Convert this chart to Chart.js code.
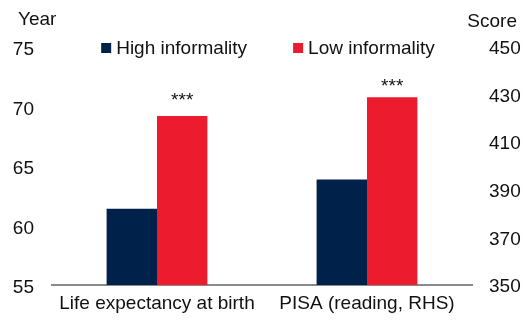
<!DOCTYPE html>
<html>
<head>
<meta charset="utf-8">
<script src="https://cdn.jsdelivr.net/npm/chart.js@4.4.0/dist/chart.umd.min.js"></script>
<style>
  html, body { margin: 0; padding: 0; background: #fff; }
</style>
</head>
<body>
<canvas id="informality-bar" width="526" height="320"></canvas>
<script>
const categories = ['Life expectancy at birth', 'PISA (reading, RHS)'];
const seriesNames = ['High informality', 'Low informality'];
const lifeExpectancy = [61.4, 69.2];   // years, left axis
const pisaReading = [394.3, 428.9];    // score, right axis
const significance = ['***', '***'];
const yearTicks = [55, 60, 65, 70, 75];
const scoreTicks = [350, 370, 390, 410, 430, 450];

const NAVY = '#00214a';
const RED = '#ec1c2e';
const FONT = "'Liberation Sans', Arial, sans-serif";
const TEXT = '#111111';

Chart.defaults.font.family = FONT;
Chart.defaults.font.size = 19;
Chart.defaults.color = TEXT;

// legend, axis titles and significance stars
const extras = {
  id: 'extras',
  afterDraw(chart) {
    const ctx = chart.ctx;
    const area = chart.chartArea;
    ctx.save();
    ctx.font = '19px ' + FONT;
    ctx.fillStyle = TEXT;
    ctx.textBaseline = 'middle';
    ctx.textAlign = 'left';
    ctx.fillText('Year', 18, area.top - 27);
    ctx.textAlign = 'right';
    ctx.fillText('Score', 517, area.top - 25);

    // legend
    const colors = [NAVY, RED];
    const box = 10, gap = 5, spacing = 46;
    const widths = seriesNames.map(n => ctx.measureText(n).width);
    const total = widths.reduce((a, w) => a + box + gap + w, 0) + spacing;
    let x = (area.left + area.right) / 2 + 6 - total / 2;
    const ly = area.top + 1;
    ctx.textAlign = 'left';
    seriesNames.forEach((n, i) => {
      ctx.fillStyle = colors[i];
      ctx.fillRect(x, ly - box / 2, box, box);
      ctx.fillStyle = TEXT;
      ctx.fillText(n, x + box + gap, ly + 1);
      x += box + gap + widths[i] + spacing;
    });

    // stars above the low informality bars
    const lift = [10, 5];
    ctx.textAlign = 'center';
    ctx.textBaseline = 'alphabetic';
    chart.data.datasets.forEach((ds, di) => {
      if (ds.label !== seriesNames[1]) return;
      const meta = chart.getDatasetMeta(di);
      ds.data.forEach((v, i) => {
        if (v == null || !significance[i]) return;
        const el = meta.data[i];
        ctx.fillText(significance[i], el.x, el.y - lift[i]);
      });
    });
    ctx.restore();
  }
};

const ctx = document.getElementById('informality-bar').getContext('2d');
const informalityChart = new Chart(ctx, {
  type: 'bar',
  plugins: [extras],
  data: {
    labels: categories,
    datasets: [
      { label: seriesNames[0], data: [lifeExpectancy[0], null], yAxisID: 'yLeft', backgroundColor: NAVY },
      { label: seriesNames[1], data: [lifeExpectancy[1], null], yAxisID: 'yLeft', backgroundColor: RED },
      { label: seriesNames[0], data: [null, pisaReading[0]], yAxisID: 'yRight', backgroundColor: NAVY },
      { label: seriesNames[1], data: [null, pisaReading[1]], yAxisID: 'yRight', backgroundColor: RED }
    ]
  },
  options: {
    responsive: false,
    animation: false,
    devicePixelRatio: 1,
    layout: { padding: { top: 47, left: 0, right: 0, bottom: 0 } },
    datasets: {
      bar: { skipNull: true, barPercentage: 1, categoryPercentage: 0.48, borderWidth: 0 }
    },
    plugins: {
      legend: { display: false },
      tooltip: { enabled: false }
    },
    scales: {
      x: {
        grid: { display: false, drawTicks: false },
        border: { display: true, color: '#8a8a8a', width: 2 },
        ticks: { padding: 7, color: TEXT, maxRotation: 0 },
        afterFit: s => { s.height = 35; }
      },
      yLeft: {
        position: 'left',
        min: yearTicks[0],
        max: yearTicks[yearTicks.length - 1],
        grid: { display: false, drawTicks: false },
        border: { display: false },
        ticks: { padding: 18, color: TEXT, labelOffset: 3 },
        afterBuildTicks: s => { s.ticks = yearTicks.map(v => ({ value: v })); },
        afterFit: s => { s.width = 52; }
      },
      yRight: {
        position: 'right',
        min: scoreTicks[0],
        max: scoreTicks[scoreTicks.length - 1],
        grid: { display: false, drawTicks: false },
        border: { display: false },
        ticks: { padding: 17, color: TEXT, labelOffset: 2 },
        afterBuildTicks: s => { s.ticks = scoreTicks.map(v => ({ value: v })); },
        afterFit: s => { s.width = 54; }
      }
    }
  }
});
</script>
</body>
</html>
